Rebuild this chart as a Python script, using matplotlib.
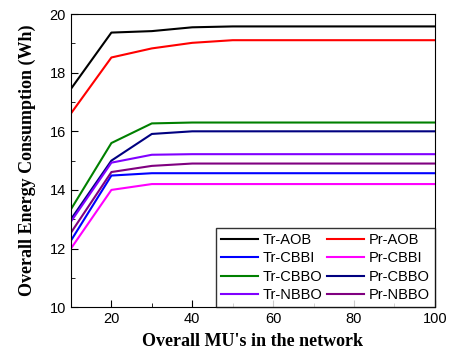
import matplotlib
matplotlib.use('Agg')
import matplotlib.pyplot as plt
from matplotlib.ticker import MultipleLocator

mus = [10, 20, 30, 40, 50, 60, 70, 80, 90, 100]

tr_aob = [17.45, 19.37, 19.42, 19.55, 19.58, 19.58, 19.58, 19.58, 19.58, 19.58]
pr_aob = [16.61, 18.52, 18.83, 19.02, 19.11, 19.11, 19.11, 19.11, 19.11, 19.11]
tr_cbbi = [12.27, 14.49, 14.57, 14.57, 14.57, 14.57, 14.57, 14.57, 14.57, 14.57]
pr_cbbi = [12.0, 14.0, 14.2, 14.2, 14.2, 14.2, 14.2, 14.2, 14.2, 14.2]
tr_cbbo = [13.34, 15.6, 16.27, 16.3, 16.3, 16.3, 16.3, 16.3, 16.3, 16.3]
pr_cbbo = [13.0, 15.0, 15.91, 16.0, 16.0, 16.0, 16.0, 16.0, 16.0, 16.0]
tr_nbbo = [12.92, 14.93, 15.2, 15.22, 15.22, 15.22, 15.22, 15.22, 15.22, 15.22]
pr_nbbo = [12.54, 14.61, 14.82, 14.9, 14.9, 14.9, 14.9, 14.9, 14.9, 14.9]

series = [
    ('Tr-AOB', tr_aob, 'black'),
    ('Pr-AOB', pr_aob, 'red'),
    ('Tr-CBBI', tr_cbbi, 'blue'),
    ('Pr-CBBI', pr_cbbi, 'magenta'),
    ('Tr-CBBO', tr_cbbo, 'green'),
    ('Pr-CBBO', pr_cbbo, 'navy'),
    ('Tr-NBBO', tr_nbbo, '#8000ff'),
    ('Pr-NBBO', pr_nbbo, 'purple'),
]

plt.rcParams['font.family'] = 'Liberation Sans'

fig = plt.figure(figsize=(4.52, 3.53), dpi=100)
ax = fig.add_axes([0.157, 0.130, 0.805, 0.830])

lines = {}
for name, vals, col in series:
    lines[name], = ax.plot(mus, vals, color=col, lw=1.5, label=name)

ax.set_xlim(10, 100)
ax.set_ylim(10, 20)
ax.xaxis.set_major_locator(MultipleLocator(20))
ax.xaxis.set_minor_locator(MultipleLocator(10))
ax.yaxis.set_major_locator(MultipleLocator(2))
ax.yaxis.set_minor_locator(MultipleLocator(1))
ax.tick_params(which='both', direction='in', top=False, right=False, labelsize=10.5)
ax.tick_params(which='major', length=5)
ax.tick_params(which='minor', length=3)

ax.set_xlabel("Overall MU's in the network", family='Liberation Serif',
              fontweight='bold', fontsize=13, labelpad=5)
ax.set_ylabel('Overall Energy Consumption (Wh)', family='Liberation Serif',
              fontweight='bold', fontsize=13, labelpad=10)

# legend fills column-wise, so list Tr-* first then Pr-* to get row pairs
order = ['Tr-AOB', 'Tr-CBBI', 'Tr-CBBO', 'Tr-NBBO',
         'Pr-AOB', 'Pr-CBBI', 'Pr-CBBO', 'Pr-NBBO']
leg = ax.legend([lines[n] for n in order], order, loc='lower right', ncol=2,
                fontsize=10.5, frameon=True, fancybox=False, edgecolor='black',
                borderaxespad=0, handlelength=2.5, columnspacing=0.3,
                handletextpad=0.35, labelspacing=0.3, borderpad=0.35)
leg.get_frame().set_linewidth(1.0)

fig.savefig('out.png', dpi=100)
